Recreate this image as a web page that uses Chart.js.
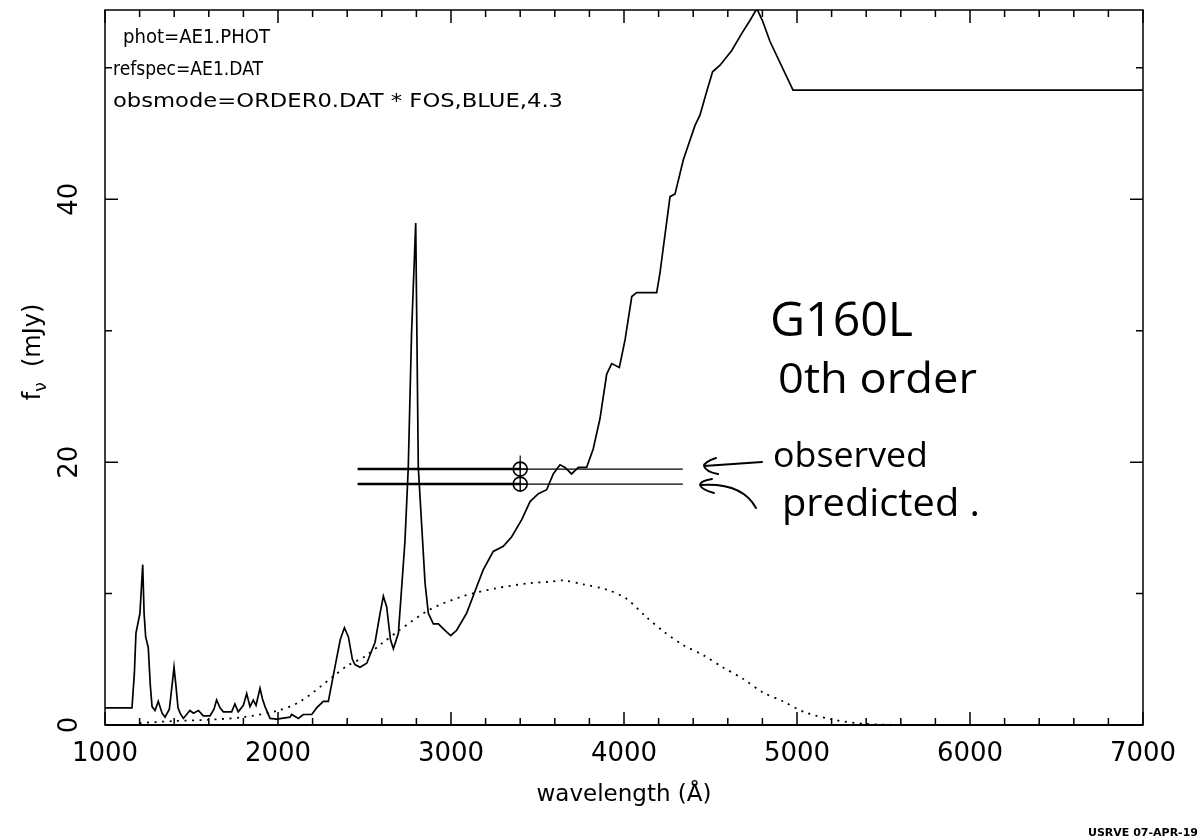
<!DOCTYPE html>
<html>
<head>
<meta charset="utf-8">
<script src="https://cdn.jsdelivr.net/npm/chart.js@4.4.0/dist/chart.umd.min.js"></script>
<style>
  html, body { margin: 0; padding: 0; background: #fff; }
  #wrap { width: 1198px; height: 839px; position: relative; }
</style>
</head>
<body>
<div id="wrap"><canvas id="specChart"></canvas></div>
<script>
// reference spectrum (solid line), wavelength in Angstrom, flux in mJy
const specWave = [1000, 1156, 1170, 1179, 1202, 1218, 1226, 1235, 1250, 1262, 1272, 1289, 1308, 1330, 1347,
  1372, 1390, 1399, 1410, 1422, 1434, 1453, 1491, 1511, 1540, 1568, 1607, 1630, 1645, 1665, 1684, 1732,
  1751, 1770, 1800, 1819, 1838, 1857, 1873, 1896, 1910, 1925, 1954, 1993, 2069, 2079, 2118, 2146, 2195,
  2223, 2262, 2291, 2329, 2360, 2384, 2407, 2430, 2445, 2474, 2513, 2561, 2590, 2609, 2628, 2650, 2667,
  2696, 2734, 2753, 2772, 2796, 2811, 2850, 2869, 2898, 2927, 2965, 2998, 3032, 3090, 3148, 3186, 3244,
  3302, 3350, 3408, 3457, 3505, 3553, 3591, 3630, 3659, 3697, 3736, 3784, 3822, 3861, 3900, 3929, 3973,
  4006, 4045, 4073, 4189, 4208, 4266, 4295, 4343, 4410, 4439, 4478, 4512, 4555, 4622, 4680, 4728, 4768,
  4800, 4844, 4977, 7000];
const specFlux = [1.3, 1.3, 4.0, 7.0, 8.5, 12.2, 8.5, 6.7, 5.9, 3.0, 1.4, 1.1, 1.8, 0.9, 0.6,
  1.2, 3.3, 4.4, 3.0, 1.3, 0.9, 0.5, 1.1, 0.9, 1.1, 0.7, 0.7, 1.2, 1.9, 1.3, 1.0, 1.0,
  1.6, 1.0, 1.5, 2.4, 1.4, 1.9, 1.5, 2.8, 2.0, 1.4, 0.5, 0.45, 0.6, 0.8, 0.5, 0.8, 0.8,
  1.3, 1.8, 1.8, 4.4, 6.5, 7.4, 6.7, 5.0, 4.6, 4.4, 4.7, 6.3, 8.5, 9.8, 9.0, 6.5, 5.8,
  7.0, 14.0, 19.6, 29.8, 38.2, 19.6, 10.8, 8.5, 7.7, 7.7, 7.2, 6.8, 7.2, 8.5, 10.5, 11.8, 13.2,
  13.6, 14.3, 15.6, 17.0, 17.6, 17.9, 19.1, 19.8, 19.6, 19.1, 19.6, 19.6, 21.0, 23.3, 26.7, 27.5, 27.2,
  29.3, 32.6, 32.9, 32.9, 34.4, 40.2, 40.4, 43.0, 45.6, 46.4, 48.2, 49.7, 50.2, 51.3, 52.6, 53.6, 54.5,
  53.6, 52.0, 48.3, 48.3];

// throughput-weighted model curve (dotted line)
const modelWave = [1200, 1400, 1600, 1800, 2000, 2130, 2320, 2400, 2500, 2600, 2700, 2880, 3070, 3260,
  3460, 3570, 3650, 3765, 3900, 4015, 4130, 4230, 4340, 4460, 4570, 4690, 4800, 4920, 5040, 5210, 5400, 5600];
const modelFlux = [0.15, 0.3, 0.4, 0.6, 1.1, 1.8, 3.7, 4.5, 5.2, 6.2, 7.2, 8.8, 9.8, 10.4,
  10.8, 10.9, 11.0, 10.7, 10.3, 9.6, 8.2, 7.1, 6.1, 5.3, 4.4, 3.5, 2.5, 1.8, 1.0, 0.4, 0.08, 0.0];

// synthetic photometry: band edges, pivot and the two flux levels
const bandStart = 2460;
const bandMid = 3400;
const bandEnd = 4340;
const observedFlux = 19.47;
const predictedFlux = 18.33;
const observedErrTop = 20.5;

// axes
const xMin = 1000, xMax = 7000;
const yMin = 0, yMax = 54.4;
const xMinorStep = 200, xMajorStep = 1000;
const yMinorStep = 10, yMajorStep = 20;
const yTickLabels = [0, 20, 40];

// texts
const infoLines = ["phot=AE1.PHOT", "refspec=AE1.DAT", "obsmode=ORDER0.DAT * FOS,BLUE,4.3"];
const noteLines = ["G160L", "0th order"];
const arrowLabels = ["observed", "predicted ."];
const stampText = "USRVE 07-APR-19";

const FONT = '"DejaVu Sans", sans-serif';
const HAND = '"Open Sans", "DejaVu Sans", sans-serif';

function toPoints(xs, ys) {
  return xs.map((x, i) => ({ x: x, y: ys[i] }));
}

function fitText(ctx, text, x, y, width, font) {
  ctx.save();
  ctx.font = font;
  const w = ctx.measureText(text).width;
  ctx.translate(x, y);
  ctx.scale(width / w, 1);
  ctx.fillText(text, 0, 0);
  ctx.restore();
}

const framePlugin = {
  id: "frame",
  afterDatasetsDraw(chart) {
    const { ctx, chartArea: a, scales: { x, y } } = chart;
    ctx.save();
    ctx.strokeStyle = "#000";
    ctx.lineWidth = 1.5;
    ctx.strokeRect(a.left, a.top, a.right - a.left, a.bottom - a.top);
    ctx.lineWidth = 2;
    ctx.beginPath();
    ctx.moveTo(a.left, a.bottom);
    ctx.lineTo(a.right, a.bottom);
    ctx.stroke();

    // inward tick marks on all four sides
    ctx.lineWidth = 1.5;
    ctx.beginPath();
    for (let v = xMin; v <= xMax; v += xMinorStep) {
      const px = x.getPixelForValue(v);
      const len = v % xMajorStep === 0 ? 13 : 7;
      ctx.moveTo(px, a.bottom);
      ctx.lineTo(px, a.bottom - len);
      ctx.moveTo(px, a.top);
      ctx.lineTo(px, a.top + len);
    }
    for (let v = yMin; v <= yMax; v += yMinorStep) {
      const py = y.getPixelForValue(v);
      const len = v % yMajorStep === 0 ? 13 : 7;
      ctx.moveTo(a.left, py);
      ctx.lineTo(a.left + len, py);
      ctx.moveTo(a.right, py);
      ctx.lineTo(a.right - len, py);
    }
    ctx.stroke();
    ctx.restore();
  },
  afterDraw(chart) {
    const { ctx, scales: { y } } = chart;
    ctx.save();
    ctx.fillStyle = "#000";
    ctx.strokeStyle = "#000";

    // rotated y tick labels
    ctx.font = "26px " + FONT;
    ctx.textAlign = "center";
    ctx.textBaseline = "middle";
    yTickLabels.forEach((v) => {
      ctx.save();
      ctx.translate(70, y.getPixelForValue(v));
      ctx.rotate(-Math.PI / 2);
      ctx.fillText(String(v), 0, 0);
      ctx.restore();
    });

    // y title: f_nu (mJy)
    ctx.save();
    ctx.translate(32, 352);
    ctx.rotate(-Math.PI / 2);
    ctx.textAlign = "left";
    ctx.textBaseline = "alphabetic";
    const big = "24px " + FONT, small = "17px " + FONT;
    ctx.font = big; const wf = ctx.measureText("f").width;
    ctx.font = small; const wn = ctx.measureText("\u03bd").width;
    ctx.font = big; const wr = ctx.measureText("  (mJy)").width;
    let sx = -(wf + wn + wr) / 2;
    ctx.font = big; ctx.fillText("f", sx, 8); sx += wf;
    ctx.font = small; ctx.fillText("\u03bd", sx, 14); sx += wn;
    ctx.font = big; ctx.fillText("  (mJy)", sx, 8);
    ctx.restore();

    // info lines at the top left
    ctx.textAlign = "left";
    ctx.textBaseline = "middle";
    fitText(ctx, infoLines[0], 123, 38, 147, "20px " + FONT);
    fitText(ctx, infoLines[1], 113, 70, 150, "20px " + FONT);
    fitText(ctx, infoLines[2], 113, 102, 450, "20px " + FONT);

    // handwritten notes
    ctx.textBaseline = "alphabetic";
    fitText(ctx, noteLines[0], 770, 336, 143, "48px " + HAND);
    fitText(ctx, noteLines[1], 778, 393, 199, "42px " + HAND);
    fitText(ctx, arrowLabels[0], 773, 467, 155, "34px " + HAND);
    fitText(ctx, arrowLabels[1], 782, 516, 198, "38px " + HAND);

    // arrows
    ctx.lineWidth = 2;
    ctx.lineCap = "round";
    ctx.beginPath();
    ctx.moveTo(762, 462);
    ctx.lineTo(704, 466);
    ctx.moveTo(716, 458);
    ctx.quadraticCurveTo(704, 462, 704, 466);
    ctx.quadraticCurveTo(706, 472, 718, 474);
    ctx.stroke();
    ctx.beginPath();
    ctx.moveTo(700, 485);
    ctx.quadraticCurveTo(742, 482, 756, 508);
    ctx.moveTo(712, 479);
    ctx.quadraticCurveTo(700, 481, 700, 485);
    ctx.quadraticCurveTo(702, 490, 714, 493);
    ctx.stroke();

    // plot stamp
    ctx.font = "bold 11px " + FONT;
    ctx.textBaseline = "middle";
    ctx.fillText(stampText, 1088, 833);
    ctx.restore();
  }
};

const black = "#000";
const ctx = document.getElementById("specChart").getContext("2d");
new Chart(ctx, {
  type: "scatter",
  data: {
    datasets: [
      { data: toPoints(specWave, specFlux), showLine: true, borderColor: black, borderWidth: 1.7,
        pointRadius: 0, tension: 0 },
      { data: toPoints(modelWave, modelFlux), showLine: true, borderColor: black, borderWidth: 1.8,
        borderDash: [2, 5.5], pointRadius: 0, tension: 0.3 },
      { data: [{ x: bandStart, y: observedFlux }, { x: bandMid, y: observedFlux }], showLine: true,
        borderColor: black, borderWidth: 2.5, pointRadius: 0 },
      { data: [{ x: bandMid, y: observedFlux }, { x: bandEnd, y: observedFlux }], showLine: true,
        borderColor: black, borderWidth: 1.2, pointRadius: 0 },
      { data: [{ x: bandStart, y: predictedFlux }, { x: bandMid, y: predictedFlux }], showLine: true,
        borderColor: black, borderWidth: 2.5, pointRadius: 0 },
      { data: [{ x: bandMid, y: predictedFlux }, { x: bandEnd, y: predictedFlux }], showLine: true,
        borderColor: black, borderWidth: 1.2, pointRadius: 0 },
      { data: [{ x: bandMid, y: observedFlux }, { x: bandMid, y: observedErrTop }], showLine: true,
        borderColor: black, borderWidth: 1.2, pointRadius: 0 },
      { data: [{ x: bandMid, y: observedFlux }, { x: bandMid, y: predictedFlux }],
        pointStyle: "circle", pointRadius: 7, borderColor: black, borderWidth: 1.6,
        backgroundColor: "rgba(0,0,0,0)" },
      { data: [{ x: bandMid, y: observedFlux }, { x: bandMid, y: predictedFlux }],
        pointStyle: "cross", pointRadius: 7, borderColor: black, borderWidth: 1.4 }
    ]
  },
  options: {
    responsive: true,
    maintainAspectRatio: false,
    animation: false,
    events: [],
    layout: { padding: { left: 105, right: 55, top: 10, bottom: 20 } },
    plugins: { legend: { display: false }, tooltip: { enabled: false } },
    scales: {
      x: {
        type: "linear", min: xMin, max: xMax,
        grid: { display: false, drawTicks: false },
        border: { display: false },
        ticks: { stepSize: xMajorStep, color: black, padding: 14, maxRotation: 0, autoSkip: false,
          font: { family: FONT, size: 26 }, callback: (v) => String(v) },
        title: { display: true, text: "wavelength (Å)", color: black,
          font: { family: FONT, size: 23 }, padding: { top: 10, bottom: 10 } },
        afterFit: (s) => { s.height = 94; }
      },
      y: {
        type: "linear", min: yMin, max: yMax,
        grid: { display: false, drawTicks: false },
        border: { display: false },
        ticks: { display: false },
        afterFit: (s) => { s.width = 0; }
      }
    }
  },
  plugins: [framePlugin]
});
</script>
</body>
</html>
